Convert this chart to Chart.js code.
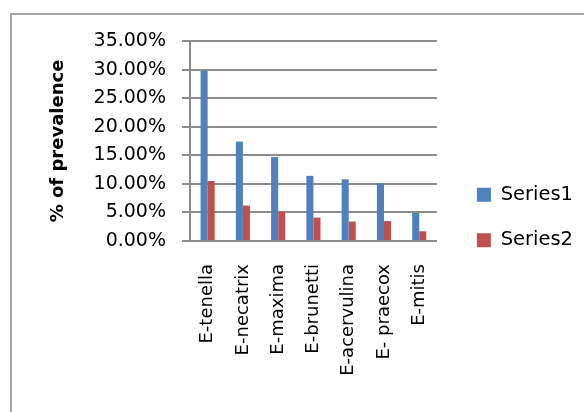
<!DOCTYPE html>
<html><head><meta charset="utf-8">
<script src="https://cdn.jsdelivr.net/npm/chart.js@4"></script>
<style>
html,body{margin:0;padding:0;background:#fff;overflow:hidden;}
#wrap{position:relative;width:584px;height:412px;overflow:hidden;}
#frame{position:absolute;left:10px;top:13px;width:700px;height:500px;border-left:2px solid #a6a6a6;border-top:2px solid #a6a6a6;}
canvas{position:absolute;left:0;top:0;}
</style></head><body>
<div id="wrap"><div id="frame"></div><canvas id="c" width="584" height="412"></canvas></div>
<script>
const categories = ['E-tenella','E-necatrix','E-maxima','E-brunetti','E-acervulina','E- praecox','E-mitis'];
const series1 = [29.8, 17.4, 14.7, 11.4, 10.8, 10.1, 4.9];
const series2 = [10.5, 6.2, 5.2, 4.1, 3.4, 3.5, 1.7];
const seriesNames = ['Series1','Series2'];
const yMin = 0, yMax = 35, yStep = 5;
const yTitle = '% of prevalence';

const FONT = 'DejaVu Sans';
const GRID = '#8c8c8c';
const PAD_BOTTOM = 18;

new Chart(document.getElementById('c'), {
  type: 'bar',
  data: {
    labels: categories,
    datasets: [
      {label: seriesNames[0], data: series1, backgroundColor: '#4F81BD', categoryPercentage: 0.4, barPercentage: 1.0},
      {label: seriesNames[1], data: series2, backgroundColor: '#C0504D', categoryPercentage: 0.4, barPercentage: 1.0}
    ]
  },
  options: {
    responsive: false,
    animation: false,
    layout: {padding: {top: 41, left: 0, right: 1, bottom: PAD_BOTTOM}},
    plugins: {
      legend: {
        position: 'right',
        maxWidth: 220,
        labels: {boxWidth: 14, boxHeight: 14, padding: 26, color: '#000', font: {family: FONT, size: 19.5}}
      },
      tooltip: {enabled: false}
    },
    scales: {
      x: {
        grid: {display: false, drawTicks: false},
        border: {display: true, color: GRID, width: 2},
        ticks: {minRotation: 90, maxRotation: 90, autoSkip: false, padding: 23, color: '#000', font: {family: FONT, size: 18}},
        afterFit: s => { s.height = 412 - PAD_BOTTOM - 241; }
      },
      y: {
        min: yMin, max: yMax,
        ticks: {stepSize: yStep, padding: 16, color: '#000', font: {family: FONT, size: 19}, callback: v => v.toFixed(2) + '%'},
        grid: {color: GRID, lineWidth: 2, tickLength: 8},
        border: {color: GRID, width: 2},
        title: {display: true, text: yTitle, color: '#000', font: {family: FONT, size: 18, weight: 'bold'}, padding: {top: 48, bottom: 0}},
        afterFit: s => { s.width = 190; }
      },
      y2: {
        position: 'right',
        grid: {display: false, drawTicks: false},
        border: {display: false},
        ticks: {display: false},
        afterFit: s => { s.width = 14; }
      }
    }
  }
});
</script>
</body></html>
